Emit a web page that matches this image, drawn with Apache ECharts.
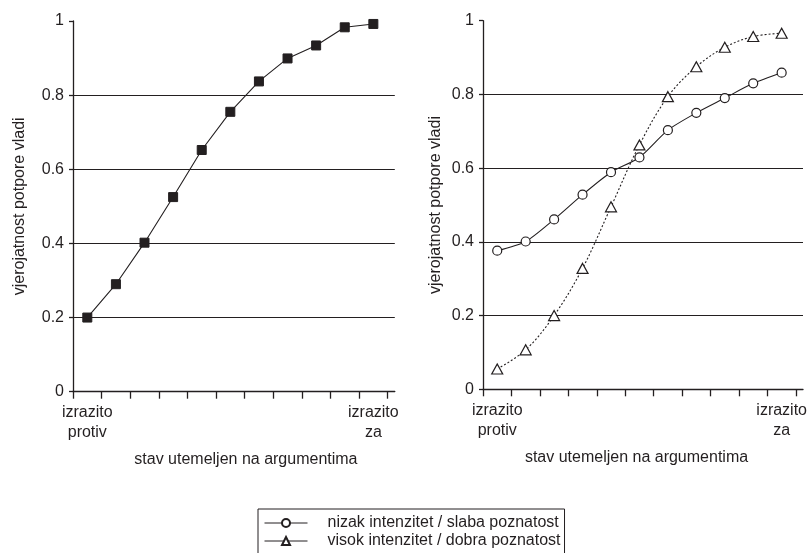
<!DOCTYPE html>
<html>
<head>
<meta charset="utf-8">
<script src="https://cdn.jsdelivr.net/npm/echarts@6/dist/echarts.min.js"></script>
<style>
html,body{margin:0;padding:0;background:#fff;}
#chart{width:810px;height:553px;}
</style>
</head>
<body>
<div id="chart"></div>
<script>
// ---- data ----
const categoryCount = 11;
const xTickLabels = ['izrazito\nprotiv', 'izrazito\nza'];
const yTicks = [0, 0.2, 0.4, 0.6, 0.8, 1];
const yAxisName = 'vjerojatnost potpore vladi';
const xAxisName = 'stav utemeljen na argumentima';
const seriesNameLeft = 'ukupno';
const seriesNameLow = 'nizak intenzitet / slaba poznatost';
const seriesNameHigh = 'visok intenzitet / dobra poznatost';
const probLeft = [0.200, 0.290, 0.402, 0.525, 0.652, 0.755, 0.837, 0.899, 0.934, 0.983, 0.992];
const probLow  = [0.376, 0.401, 0.461, 0.528, 0.589, 0.629, 0.703, 0.750, 0.790, 0.830, 0.859];
const probHigh = [0.055, 0.107, 0.200, 0.328, 0.495, 0.663, 0.794, 0.875, 0.928, 0.957, 0.966];

// ---- build ----
const ink = '#231f20';
const font = 'Liberation Sans, Arial, Helvetica, sans-serif';
const toPairs = arr => arr.map((v, i) => [i + 0.5, v]);
const tickVals = Array.from({length: categoryCount + 1}, (_, i) => i);
const labelVals = [0.5, categoryCount - 0.5];

function xAxisCfg(gridIndex, namePad) {
  return {
    type: 'value', gridIndex, min: 0, max: categoryCount + 0.25, interval: 1,
    name: xAxisName, nameLocation: 'middle', nameGap: 60,
    nameTextStyle: {color: ink, fontSize: 16, fontFamily: font, padding: namePad},
    axisLine: {show: true, onZero: false, lineStyle: {color: ink, width: 1.3}},
    axisTick: {show: true, length: 7, customValues: tickVals, lineStyle: {color: ink, width: 1.3}},
    axisLabel: {
      customValues: labelVals, margin: 11, color: ink, fontSize: 16, fontFamily: font,
      lineHeight: 20, align: 'center',
      formatter: v => (v < categoryCount / 2 ? xTickLabels[0] : xTickLabels[1])
    },
    splitLine: {show: false}
  };
}
function yAxisCfg(gridIndex, nameGap) {
  return {
    type: 'value', gridIndex, min: yTicks[0], max: yTicks[yTicks.length - 1], interval: 0.2,
    name: yAxisName, nameLocation: 'middle', nameGap,
    nameTextStyle: {color: ink, fontSize: 16, fontFamily: font},
    axisLine: {show: true, lineStyle: {color: ink, width: 1.3}},
    axisTick: {show: true, length: 4, lineStyle: {color: ink, width: 1.3}},
    axisLabel: {margin: 9, color: ink, fontSize: 16, fontFamily: font,
      formatter: v => String(Math.round(v * 10) / 10)},
    splitLine: {show: true, showMaxLine: false, lineStyle: {color: ink, width: 1.2}}
  };
}

const option = {
  backgroundColor: '#fff',
  animation: false,
  grid: [
    {left: 73, top: 21, width: 321.8, height: 370.7, containLabel: false},
    {left: 483, top: 20.7, width: 322.5, height: 368.6, containLabel: false}
  ],
  xAxis: [xAxisCfg(0, [0, 0, 0, 24]), xAxisCfg(1, [0, 13, 0, 0])],
  yAxis: [yAxisCfg(0, 45), yAxisCfg(1, 39)],
  legend: {
    data: [seriesNameLow, seriesNameHigh],
    orient: 'vertical', left: 258, top: 509, height: 120,
    borderColor: ink, borderWidth: 1, borderRadius: 0,
    padding: [5, 4, 5, 6],
    itemWidth: 43, itemHeight: 10, itemGap: 0,
    lineStyle: {type: 'solid', width: 1, color: ink},
    textStyle: {color: ink, fontSize: 16, fontFamily: font, lineHeight: 18, padding: [0, 0, 0, 15]}
  },
  series: [
    {
      name: seriesNameLeft, type: 'line', xAxisIndex: 0, yAxisIndex: 0,
      data: toPairs(probLeft), symbol: 'rect', symbolSize: 9,
      lineStyle: {color: ink, width: 1.1}, itemStyle: {color: ink, borderColor: ink}
    },
    {
      name: seriesNameLow, type: 'line', xAxisIndex: 1, yAxisIndex: 1,
      data: toPairs(probLow), symbol: 'circle', symbolSize: 9, smooth: 0.25, z: 3,
      lineStyle: {color: ink, width: 1.1},
      itemStyle: {color: '#fff', borderColor: ink, borderWidth: 1.2}
    },
    {
      name: seriesNameHigh, type: 'line', xAxisIndex: 1, yAxisIndex: 1,
      data: toPairs(probHigh), symbol: 'triangle', symbolSize: [11, 10], smooth: 0.35, z: 4,
      lineStyle: {color: ink, width: 1.1, type: [2, 2]},
      itemStyle: {color: '#fff', borderColor: ink, borderWidth: 1.2}
    }
  ]
};
const chart = echarts.init(document.getElementById('chart'), null, {renderer: 'canvas'});
chart.setOption(option);
</script>
</body>
</html>
